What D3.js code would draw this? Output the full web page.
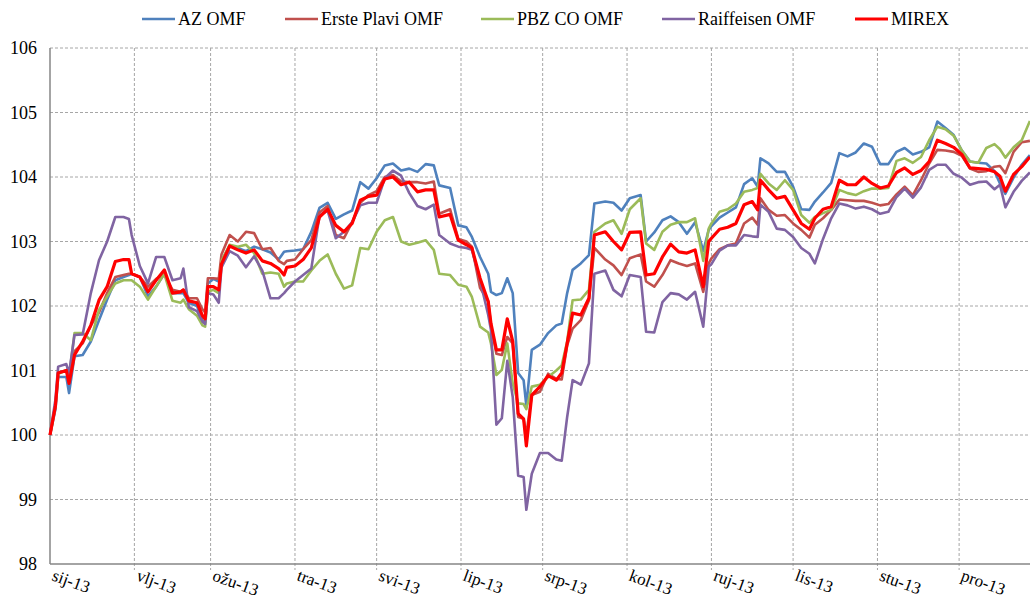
<!DOCTYPE html>
<html><head><meta charset="utf-8">
<script src="https://cdnjs.cloudflare.com/ajax/libs/d3/7.8.5/d3.min.js"></script>
<style>body{margin:0;background:#fff;} svg{display:block;font-family:"Liberation Serif","Times New Roman",serif;}</style>
</head><body><svg id="c" width="1030" height="601"></svg>
<script>
const dates = ["2013-01-01","2013-01-03","2013-01-04","2013-01-07","2013-01-08","2013-01-10","2013-01-13","2013-01-16","2013-01-19","2013-01-22",
"2013-01-25","2013-01-28","2013-01-30","2013-01-31","2013-02-03","2013-02-06","2013-02-09","2013-02-12","2013-02-15","2013-02-18",
"2013-02-19","2013-02-21","2013-02-24","2013-02-26","2013-02-27","2013-02-28","2013-03-02","2013-03-04","2013-03-05","2013-03-08",
"2013-03-11","2013-03-14","2013-03-17","2013-03-20","2013-03-23","2013-03-26","2013-03-28","2013-03-29","2013-04-01","2013-04-04",
"2013-04-07","2013-04-10","2013-04-13","2013-04-16","2013-04-19","2013-04-22","2013-04-25","2013-04-28","2013-05-01","2013-05-04",
"2013-05-07","2013-05-10","2013-05-13","2013-05-16","2013-05-19","2013-05-22","2013-05-24","2013-05-28","2013-05-31","2013-06-03",
"2013-06-05","2013-06-08","2013-06-11","2013-06-12","2013-06-14","2013-06-16","2013-06-18","2013-06-20","2013-06-22","2013-06-24",
"2013-06-25","2013-06-27","2013-06-30","2013-07-03","2013-07-06","2013-07-08","2013-07-10","2013-07-12","2013-07-15","2013-07-18",
"2013-07-20","2013-07-24","2013-07-27","2013-07-30","2013-08-02","2013-08-06","2013-08-08","2013-08-11","2013-08-14","2013-08-17",
"2013-08-20","2013-08-23","2013-08-26","2013-08-29","2013-08-31","2013-09-01","2013-09-04","2013-09-07","2013-09-10","2013-09-13",
"2013-09-16","2013-09-18","2013-09-19","2013-09-22","2013-09-25","2013-09-28","2013-10-01","2013-10-04","2013-10-07","2013-10-09",
"2013-10-12","2013-10-15","2013-10-18","2013-10-21","2013-10-24","2013-10-27","2013-10-30","2013-11-02","2013-11-05","2013-11-08",
"2013-11-11","2013-11-14","2013-11-17","2013-11-20","2013-11-23","2013-11-26","2013-11-29","2013-12-02","2013-12-05","2013-12-08",
"2013-12-11","2013-12-14","2013-12-16","2013-12-18","2013-12-21","2013-12-24","2013-12-27"];

const azOMF = [100,100.4,100.9,100.9,100.65,101.22,101.24,101.45,101.78,102.1,
102.4,102.45,102.48,102.5,102.45,102.15,102.3,102.5,102.2,102.2,
102.2,102.05,102.0,101.78,101.75,102.35,102.42,102.38,102.7,102.93,
102.9,102.85,102.92,102.88,102.83,102.72,102.84,102.85,102.86,102.88,
103.15,103.52,103.6,103.35,103.42,103.48,103.92,103.82,103.98,104.18,
104.21,104.1,104.13,104.08,104.2,104.18,103.87,103.83,103.25,103.22,
103.07,102.76,102.5,102.22,102.17,102.2,102.43,102.2,100.96,100.85,
100.45,101.32,101.4,101.58,101.7,101.73,102.2,102.56,102.66,102.79,
103.59,103.62,103.6,103.48,103.67,103.72,103.0,103.14,103.33,103.39,
103.3,103.12,103.3,102.85,103.18,103.24,103.37,103.45,103.53,103.89,
103.98,103.85,104.29,104.21,104.08,104.08,103.85,103.5,103.49,103.62,
103.76,103.91,104.37,104.32,104.38,104.52,104.47,104.2,104.2,104.39,
104.45,104.35,104.39,104.46,104.86,104.76,104.65,104.41,104.24,104.22,
104.21,104.09,103.9,103.74,103.99,104.19,104.34];

const erstePlaviOMF = [100,100.45,100.97,101.0,100.85,101.3,101.42,101.7,101.9,102.2,
102.45,102.48,102.5,102.5,102.45,102.3,102.42,102.5,102.25,102.22,
102.25,102.12,102.12,101.95,101.9,102.43,102.43,102.42,102.8,103.1,
103.0,103.15,103.13,102.88,102.9,102.7,102.65,102.7,102.72,102.88,
103.02,103.45,103.55,103.1,103.05,103.3,103.6,103.72,103.78,104.0,
104.03,103.93,103.92,103.92,103.9,103.93,103.43,103.5,103.04,103.0,
102.92,102.28,102.07,101.7,101.26,101.24,101.52,101.42,100.28,100.25,
100.0,100.62,100.67,100.95,100.87,100.86,101.39,101.65,101.78,102.09,
102.9,102.72,102.63,102.48,102.74,102.8,102.38,102.3,102.48,102.71,
102.66,102.62,102.66,102.22,102.66,102.74,102.88,102.94,102.97,103.28,
103.37,103.26,103.67,103.49,103.4,103.41,103.28,103.18,103.06,103.26,
103.36,103.49,103.65,103.64,103.63,103.63,103.6,103.56,103.58,103.73,
103.85,103.72,103.95,104.21,104.42,104.41,104.39,104.33,104.13,104.08,
104.09,104.16,104.17,104.06,104.39,104.54,104.56];

const pbzCoOMF = [100,100.45,100.95,101.0,100.9,101.58,101.58,101.47,101.94,102.15,
102.35,102.4,102.4,102.4,102.3,102.1,102.3,102.5,102.08,102.05,
102.1,101.95,101.85,101.7,101.68,102.22,102.25,102.2,102.7,102.95,
102.92,102.95,102.82,102.5,102.52,102.5,102.3,102.35,102.38,102.38,
102.55,102.7,102.8,102.5,102.27,102.32,102.9,102.88,103.15,103.33,
103.38,103.0,102.95,102.98,103.02,102.87,102.5,102.48,102.33,102.3,
102.14,101.68,101.59,101.42,100.93,101.01,101.42,100.8,100.49,100.48,
100.4,100.75,100.78,100.9,101.0,101.08,101.45,102.09,102.1,102.25,
103.15,103.28,103.33,103.12,103.5,103.67,102.97,102.87,103.15,103.26,
103.3,103.3,103.36,102.7,103.2,103.28,103.46,103.5,103.59,103.77,
103.8,103.83,104.05,103.9,103.8,103.95,103.8,103.41,103.29,103.38,
103.44,103.49,103.8,103.75,103.72,103.78,103.82,103.82,103.83,104.25,
104.29,104.22,104.31,104.57,104.78,104.74,104.64,104.41,104.24,104.22,
104.45,104.51,104.43,104.3,104.46,104.57,104.87];

const raiffeisenOMF = [100,100.55,101.06,101.1,100.95,101.55,101.56,102.2,102.71,103.0,
103.38,103.38,103.35,103.1,102.62,102.35,102.76,102.76,102.4,102.43,
102.58,101.98,101.92,101.76,101.72,102.2,102.18,102.05,102.6,102.85,
102.78,102.6,102.77,102.55,102.12,102.12,102.2,102.25,102.38,102.48,
102.58,103.4,103.48,103.05,103.15,103.3,103.56,103.6,103.6,103.98,
104.1,104.02,103.75,103.55,103.5,103.57,103.1,102.97,102.92,102.9,
102.87,102.4,101.86,101.63,100.16,100.26,101.15,100.59,99.37,99.35,
98.84,99.4,99.72,99.72,99.62,99.6,100.28,100.85,100.78,101.11,
102.5,102.55,102.25,102.15,102.48,102.45,101.6,101.59,102.06,102.2,
102.18,102.1,102.22,101.68,102.61,102.65,102.86,102.94,102.94,103.1,
103.08,103.07,103.57,103.46,103.2,103.18,103.07,102.9,102.81,102.66,
103.04,103.36,103.59,103.56,103.51,103.54,103.5,103.43,103.46,103.69,
103.82,103.68,103.84,104.11,104.19,104.19,104.05,103.99,103.88,103.92,
103.93,103.81,103.88,103.53,103.77,103.94,104.07];

const mirex = [100,100.45,100.96,101.0,100.8,101.24,101.45,101.7,102.09,102.3,
102.69,102.72,102.72,102.5,102.45,102.22,102.4,102.56,102.2,102.22,
102.25,102.08,102.05,101.85,101.8,102.3,102.3,102.25,102.65,102.93,
102.87,102.82,102.87,102.7,102.66,102.58,102.48,102.6,102.62,102.72,
102.9,103.38,103.5,103.25,103.15,103.28,103.64,103.7,103.72,103.97,
104.0,103.88,103.92,103.77,103.8,103.8,103.38,103.42,103.02,102.95,
102.9,102.43,102.07,101.73,101.32,101.32,101.8,101.45,100.33,100.25,
99.83,100.62,100.75,100.92,100.85,100.96,101.42,101.89,101.86,102.12,
103.1,103.15,103.0,102.87,103.14,103.15,102.48,102.5,102.76,102.96,
102.84,102.82,102.87,102.3,103.0,103.05,103.19,103.22,103.28,103.57,
103.62,103.49,103.95,103.8,103.67,103.7,103.49,103.28,103.19,103.36,
103.5,103.54,103.95,103.88,103.88,104.0,103.9,103.83,103.86,104.07,
104.14,104.04,104.1,104.24,104.57,104.52,104.46,104.35,104.14,104.13,
104.12,104.08,104.01,103.78,104.04,104.16,104.31];

const seriesNames = ["AZ OMF","Erste Plavi OMF","PBZ CO OMF","Raiffeisen OMF","MIREX"];
const seriesValues = [azOMF, erstePlaviOMF, pbzCoOMF, raiffeisenOMF, mirex];
const seriesColors = ["#4F81BD","#C0504D","#9BBB59","#8064A2","#FF0000"];
const seriesWidths = [2.6,2.6,2.6,2.6,3.2];
const yTicks = [98,99,100,101,102,103,104,105,106];
const monthLabels = ["sij-13","vlj-13","ožu-13","tra-13","svi-13","lip-13","srp-13","kol-13","ruj-13","lis-13","stu-13","pro-13"];

const svg = d3.select("#c");
const parse = d3.timeParse("%Y-%m-%d");
const T = dates.map(parse);

const x = d3.scaleTime().domain([new Date(2013,0,1), new Date(2014,0,1)]).range([50, 1043.5]);
const y = d3.scaleLinear().domain([98,106]).range([564,48]);

const gridColor = "#A6A6A6";
svg.append("g").selectAll("line").data(yTicks.filter(v=>v>98)).join("line")
  .attr("x1",50).attr("x2",1030).attr("y1",d=>y(d)).attr("y2",d=>y(d))
  .attr("stroke",gridColor).attr("stroke-width",1).attr("stroke-dasharray","3,2");
const months = d3.timeMonth.range(new Date(2013,0,1), new Date(2014,0,1));
svg.append("g").selectAll("line").data(months.slice(1)).join("line")
  .attr("x1",d=>x(d)).attr("x2",d=>x(d)).attr("y1",48).attr("y2",570)
  .attr("stroke",gridColor).attr("stroke-width",1).attr("stroke-dasharray","3,2");

svg.append("line").attr("x1",50).attr("x2",50).attr("y1",48).attr("y2",564)
  .attr("stroke","#868686").attr("stroke-width",1.5);
svg.append("line").attr("x1",50).attr("x2",1030).attr("y1",564).attr("y2",564)
  .attr("stroke","#868686").attr("stroke-width",1.5);

svg.append("g").selectAll("text").data(yTicks).join("text")
  .attr("x",37).attr("y",d=>y(d)).attr("dy","0.35em").attr("text-anchor","end")
  .attr("font-size",18).attr("fill","#000").text(d=>d);

svg.append("g").selectAll("text").data(months).join("text")
  .attr("transform",(d,i)=>`translate(${x(d)+1},${580}) rotate(20)`)
  .attr("font-size",17).attr("fill","#000").text((d,i)=>monthLabels[i]);

const line = d3.line().x((d,i)=>x(T[i])).y(d=>y(d));
seriesValues.forEach((vals,k)=>{
  svg.append("path").datum(vals).attr("d",line).attr("fill","none")
    .attr("stroke",seriesColors[k]).attr("stroke-width",seriesWidths[k])
    .attr("stroke-linejoin","round");
});

const legX = [142,285,481,662,855];
const leg = svg.append("g");
seriesNames.forEach((n,k)=>{
  leg.append("line").attr("x1",legX[k]).attr("x2",legX[k]+33).attr("y1",19).attr("y2",19)
    .attr("stroke",seriesColors[k]).attr("stroke-width",seriesWidths[k]);
  leg.append("text").attr("x",legX[k]+36).attr("y",19).attr("dy","0.35em")
    .attr("font-size",18).attr("fill","#000").text(n);
});
</script></body></html>
